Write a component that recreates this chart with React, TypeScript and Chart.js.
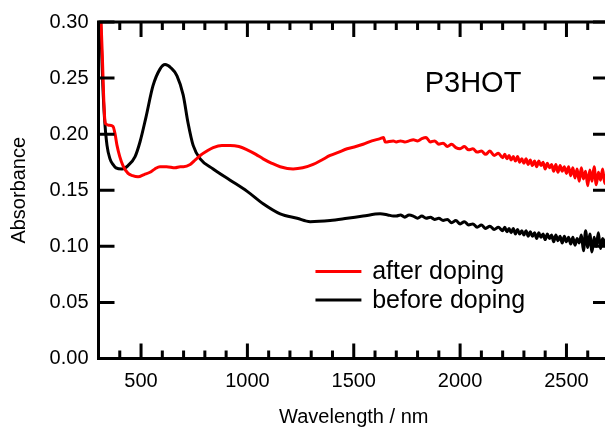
import React, { useEffect, useRef } from "react";
import { Chart, registerables } from "chart.js";

Chart.register(...registerables);

// ---- Data ----
const afterX = [
  300, 310, 318, 324, 330, 335, 350, 368, 378, 387, 400, 415, 439, 460, 486, 515, 542, 565, 589, 620, 660, 684, 700,
  731, 755, 778, 810, 839, 880, 919, 960, 999, 1040, 1074, 1115, 1154, 1215, 1260, 1309, 1350, 1389, 1430, 1469,
  1510, 1544, 1585, 1624, 1640, 1648, 1686,
  1700, 1720, 1740, 1760, 1780, 1800, 1820, 1840, 1860, 1880, 1900, 1920, 1940, 1960, 1980, 2000, 2020, 2040, 2060,
  2080, 2100, 2120, 2140, 2160, 2180,
  2200, 2210, 2220, 2230, 2240, 2250, 2260, 2270, 2280, 2290, 2300, 2310, 2320, 2330, 2340, 2350, 2360, 2370, 2380,
  2390, 2400, 2410, 2420, 2430, 2440, 2450, 2460, 2470, 2480, 2490, 2500, 2510, 2520, 2530, 2540, 2550, 2560, 2570,
  2580, 2590, 2600, 2610, 2620, 2630, 2640, 2650, 2660, 2670, 2680, 2690, 2700,
];
const afterY = [
  0.36, 0.31, 0.27, 0.235, 0.212, 0.209, 0.208, 0.207, 0.2, 0.19, 0.18, 0.172, 0.165, 0.163, 0.162, 0.164, 0.166,
  0.169, 0.171, 0.171, 0.17, 0.171, 0.171, 0.173, 0.177, 0.181, 0.185, 0.188, 0.19, 0.19, 0.189, 0.186, 0.182,
  0.178, 0.174, 0.171, 0.169, 0.17, 0.173, 0.177, 0.181, 0.184, 0.187, 0.189, 0.191, 0.194, 0.196, 0.197, 0.193,
  0.194,
  0.193, 0.194, 0.193, 0.194, 0.195, 0.194, 0.196, 0.197, 0.193, 0.194, 0.191, 0.192, 0.189, 0.191, 0.188, 0.187,
  0.189, 0.186, 0.187, 0.184, 0.185, 0.182, 0.185, 0.181, 0.183,
  0.179, 0.182, 0.178, 0.181, 0.177, 0.18, 0.176, 0.18, 0.175, 0.178, 0.174, 0.178, 0.173, 0.177, 0.172, 0.176,
  0.171, 0.176, 0.172, 0.175, 0.169, 0.174, 0.17, 0.173, 0.167, 0.173, 0.166, 0.172, 0.167, 0.171, 0.165, 0.171,
  0.163, 0.17, 0.161, 0.169, 0.158, 0.17, 0.16, 0.167, 0.154, 0.168, 0.158, 0.171, 0.155, 0.166, 0.159, 0.169,
  0.156, 0.166, 0.16,
];

const beforeX = [
  300, 310, 320, 328, 340, 354, 368, 382, 411, 439, 472, 495, 523, 556, 589, 613, 641, 669, 698, 721, 745, 778, 839,
  919, 999, 1074, 1154, 1234, 1295, 1389, 1469, 1544, 1624, 1660, 1686,
  1700, 1720, 1740, 1760, 1780, 1800, 1820, 1840, 1860, 1880, 1900, 1920, 1940, 1960, 1980, 2000, 2020, 2040, 2060,
  2080, 2100, 2120, 2140, 2160, 2180,
  2200, 2210, 2220, 2230, 2240, 2250, 2260, 2270, 2280, 2290, 2300, 2310, 2320, 2330, 2340, 2350, 2360, 2370, 2380,
  2390, 2400, 2410, 2420, 2430, 2440, 2450, 2460, 2470, 2480, 2490, 2500, 2510, 2520, 2530, 2540, 2550, 2560, 2570,
  2580, 2590, 2600, 2610, 2620, 2630, 2640, 2650, 2660, 2670, 2680, 2690, 2700,
];
const beforeY = [
  0.36, 0.3, 0.245, 0.215, 0.19, 0.178, 0.173, 0.17, 0.169, 0.172, 0.18, 0.193, 0.215, 0.243, 0.258, 0.262, 0.259,
  0.252, 0.235, 0.21, 0.19, 0.178, 0.169, 0.159, 0.149, 0.138, 0.129, 0.125, 0.122, 0.123, 0.125, 0.127, 0.129,
  0.128, 0.127,
  0.127, 0.128, 0.126, 0.128, 0.127, 0.125, 0.127, 0.125, 0.126, 0.124, 0.125, 0.123, 0.124, 0.121, 0.123, 0.12,
  0.122, 0.119, 0.12, 0.117, 0.119, 0.116, 0.118, 0.115, 0.117,
  0.114, 0.117, 0.113, 0.116, 0.112, 0.116, 0.111, 0.115, 0.111, 0.114, 0.11, 0.114, 0.109, 0.113, 0.109, 0.112,
  0.107, 0.112, 0.108, 0.111, 0.106, 0.111, 0.107, 0.11, 0.104, 0.11, 0.105, 0.109, 0.103, 0.109, 0.104, 0.108,
  0.102, 0.108, 0.101, 0.107, 0.103, 0.11, 0.096, 0.114, 0.099, 0.111, 0.095, 0.108, 0.1, 0.112, 0.098, 0.107,
  0.101, 0.109, 0.1,
];

const seriesLabels = ["after doping", "before doping"];
const seriesColors = ["#ff0000", "#000000"];
const sampleName = "P3HOT";

const xMin = 300;
const xMax = 2700;
const xMajorTicks = [500, 1000, 1500, 2000, 2500];
const xMinorStep = 100;
const yMin = 0;
const yMax = 0.3;
const yTicks = [0, 0.05, 0.1, 0.15, 0.2, 0.25, 0.3];

const FONT = "'Liberation Sans', Arial, Helvetica, sans-serif";

const framePlugin = {
  id: "frameAndText",
  afterDraw(chart: any) {
    const ctx = chart.ctx;
    const { left, right, top, bottom } = chart.chartArea;
    const xs = chart.scales.x;
    const ys = chart.scales.y;
    ctx.save();
    ctx.strokeStyle = "#000";
    ctx.lineWidth = 3;
    ctx.lineCap = "butt";
    ctx.beginPath();
    ctx.moveTo(left, top);
    ctx.lineTo(right, top);
    ctx.moveTo(left, bottom);
    ctx.lineTo(right, bottom);
    ctx.moveTo(left, top - 1.5);
    ctx.lineTo(left, bottom + 1.5);
    ctx.moveTo(right, top - 1.5);
    ctx.lineTo(right, bottom + 1.5);
    ctx.stroke();

    ctx.lineWidth = 3;
    ctx.beginPath();
    for (let v = xMin; v <= xMax; v += xMinorStep) {
      const px = xs.getPixelForValue(v);
      const len = xMajorTicks.includes(v) ? 15 : 8;
      ctx.moveTo(px, bottom);
      ctx.lineTo(px, bottom - len);
      ctx.moveTo(px, top);
      ctx.lineTo(px, top + len);
    }
    for (const v of yTicks) {
      const py = ys.getPixelForValue(v);
      ctx.moveTo(left, py);
      ctx.lineTo(left + 16, py);
      ctx.moveTo(right, py);
      ctx.lineTo(right - 16, py);
    }
    ctx.stroke();

    // sample name
    const w = right - left;
    const h = bottom - top;
    ctx.fillStyle = "#000";
    ctx.font = `29px ${FONT}`;
    ctx.textBaseline = "alphabetic";
    ctx.textAlign = "left";
    ctx.fillText(sampleName, left + w * 0.639, top + h * 0.208);

    // legend
    ctx.font = `25px ${FONT}`;
    const lx0 = left + w * 0.425;
    const lx1 = left + w * 0.515;
    const tx = left + w * 0.536;
    const rows = [top + h * 0.765, top + h * 0.85];
    seriesLabels.forEach((lab, i) => {
      const ly = rows[i];
      ctx.strokeStyle = seriesColors[i];
      ctx.lineWidth = 3;
      ctx.beginPath();
      ctx.moveTo(lx0, ly - 8);
      ctx.lineTo(lx1, ly - 8);
      ctx.stroke();
      ctx.fillStyle = "#000";
      ctx.fillText(lab, tx, ly);
    });
    ctx.restore();
  },
};

export default function App() {
  const ref = useRef<HTMLCanvasElement | null>(null);
  useEffect(() => {
    if (!ref.current) return;
    const chart = new Chart(ref.current, {
      type: "line",
      data: {
        datasets: [
          {
            label: seriesLabels[0],
            data: afterX.map((x, i) => ({ x, y: afterY[i] })),
            borderColor: seriesColors[0],
            borderWidth: 3,
            pointRadius: 0,
            cubicInterpolationMode: "monotone",
            fill: false,
          },
          {
            label: seriesLabels[1],
            data: beforeX.map((x, i) => ({ x, y: beforeY[i] })),
            borderColor: seriesColors[1],
            borderWidth: 3,
            pointRadius: 0,
            cubicInterpolationMode: "monotone",
            fill: false,
          },
        ],
      },
      options: {
        animation: false,
        responsive: false,
        devicePixelRatio: 1,
        layout: { padding: { left: 0, right: 6, top: 17.5, bottom: 0 } },
        plugins: { legend: { display: false }, tooltip: { enabled: false } },
        scales: {
          x: {
            type: "linear",
            min: xMin,
            max: xMax,
            afterBuildTicks: (s: any) => {
              s.ticks = xMajorTicks.map((v) => ({ value: v }));
            },
            afterFit: (s: any) => {
              s.height = 68.5;
            },
            grid: { display: false, drawTicks: false },
            border: { display: false },
            ticks: {
              font: { family: FONT, size: 20 },
              color: "#000",
              padding: 11,
              maxRotation: 0,
              autoSkip: false,
              callback: (v: any) => String(v),
            },
            title: {
              display: true,
              text: "Wavelength / nm",
              font: { family: FONT, size: 20, lineHeight: 1 },
              color: "#000",
              padding: { top: 0, bottom: 0 },
            },
          },
          y: {
            type: "linear",
            min: yMin,
            max: yMax,
            afterBuildTicks: (s: any) => {
              s.ticks = yTicks.map((v) => ({ value: v }));
            },
            afterFit: (s: any) => {
              s.width = 98.5;
            },
            grid: { display: false, drawTicks: false },
            border: { display: false },
            ticks: {
              font: { family: FONT, size: 20 },
              color: "#000",
              padding: 10,
              callback: (v: any) => Number(v).toFixed(2),
            },
            title: {
              display: true,
              text: "Absorbance",
              font: { family: FONT, size: 20 },
              color: "#000",
              padding: { top: 7, bottom: 0 },
            },
          },
        },
      },
      plugins: [framePlugin],
    });
    return () => chart.destroy();
  }, []);

  return (
    <div
      style={{
        position: "fixed",
        left: 0,
        top: 0,
        width: 605,
        height: 427,
        overflow: "hidden",
        background: "#fff",
      }}
    >
      <canvas ref={ref} width={615} height={427} style={{ display: "block" }} />
    </div>
  );
}
